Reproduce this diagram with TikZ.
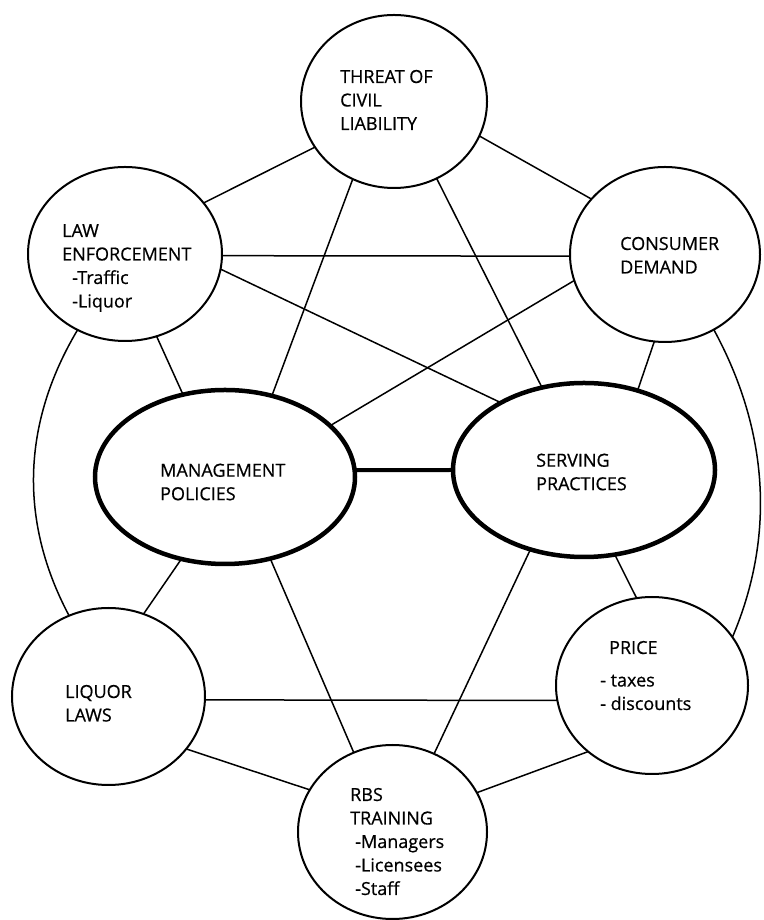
\documentclass[tikz,border=0pt]{standalone}
\usepackage{fontspec}
\setmainfont{Open Sans}[FakeBold=0.6]
\usetikzlibrary{shapes.geometric}
\newcommand\blocktext[1]{\parbox[t]{200pt}{#1}}
\begin{document}
\begin{tikzpicture}[x=1pt,y=1pt,
  circ/.style={draw, ellipse, line width=2pt, inner sep=0pt, outer sep=0pt},
  core/.style={draw, ellipse, line width=4.5pt, inner sep=0pt, outer sep=0pt},
  link/.style={line width=1.5pt},
  strong/.style={line width=4pt},
  lbl/.style={anchor=base west, inner sep=0pt, font=\fontsize{18}{23.5}\selectfont}]
\useasboundingbox (0,0) rectangle (763,920);
% shapes
\node[circ, minimum width=186pt, minimum height=173pt] (threat) at (394,818.5) {};
\node[circ, minimum width=194pt, minimum height=174pt] (law) at (125,666) {};
\node[circ, minimum width=190pt, minimum height=175pt] (consumer) at (665,665.5) {};
\node[core, minimum width=260pt, minimum height=174pt] (mgmt) at (225,443) {};
\node[core, minimum width=262pt, minimum height=174pt] (serving) at (584,450) {};
\node[circ, minimum width=193pt, minimum height=177pt] (liquor) at (108.5,223.5) {};
\node[circ, minimum width=192pt, minimum height=177pt] (price) at (652,234.5) {};
\node[circ, minimum width=189pt, minimum height=174pt] (rbs) at (392.5,88) {};
% labels
\node[lbl] (tthreat) at (340,837) {\blocktext{THREAT OF\\CIVIL\\LIABILITY}};
\node[lbl] (tlaw) at (62,683) {\blocktext{LAW\\ENFORCEMENT\\\hspace*{10pt}-Traffic\\\hspace*{10pt}-Liquor}};
\node[lbl] (tconsumer) at (620,670) {\blocktext{CONSUMER\\DEMAND}};
\node[lbl] (tmgmt) at (160,443.3) {\blocktext{MANAGEMENT\\POLICIES}};
\node[lbl] (tserving) at (536,453.3) {\blocktext{SERVING\\PRACTICES}};
\node[lbl] (tliquor) at (65,222) {\blocktext{LIQUOR\\LAWS}};
\node[lbl] (tprice) at (609,266) {\blocktext{PRICE\\[9pt]\hspace*{-9pt}- taxes\\\hspace*{-9pt}- discounts}};
\node[lbl] (trbs) at (350,119) {\blocktext{RBS\\TRAINING\\\hspace*{5pt}-Managers\\\hspace*{5pt}-Licensees\\\hspace*{5pt}-Staff}};
% connectors
\draw[link] (law.33) -- (threat.210.9);
\draw[link] (law.-1) -- (consumer.181);
\draw[link] (law.-9.4) -- (serving.141.8);
\draw[link] (law.-69.6) -- (mgmt.117.3);
\draw[link] (law.238.7) .. controls +(-56,-94) and +(-50,94) .. (liquor.116.4);
\draw[link] (threat.-22.4) -- (consumer.143);
\draw[link] (threat.242.5) -- (mgmt.60.5);
\draw[link] (threat.-61.3) -- (serving.117.1);
\draw[link] (consumer.196.5) -- (mgmt.26.1);
\draw[link] (consumer.263.6) -- (serving.56);
\draw[link] (consumer.-57.5) .. controls +(55,-101) and +(43,101) .. (price.31.2);
\draw[strong] (mgmt.3.5) -- (serving.180);
\draw[link] (mgmt.242.4) -- (liquor.67.5);
\draw[link] (mgmt.-61.4) -- (rbs.116.9);
\draw[link] (serving.236) -- (rbs.62.9);
\draw[link] (serving.-70.6) -- (price.100.9);
\draw[link] (liquor.-2) -- (price.189.2);
\draw[link] (liquor.-34) -- (rbs.153.6);
\draw[link] (rbs.25.1) -- (price.226.9);
\end{tikzpicture}
\end{document}
